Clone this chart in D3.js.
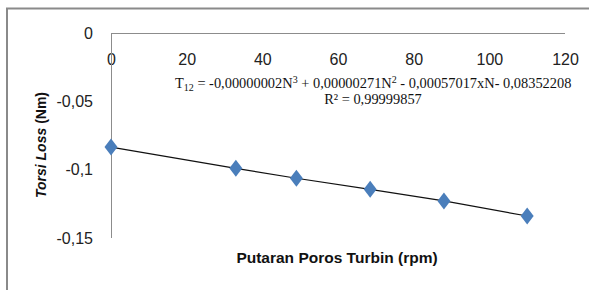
<!DOCTYPE html>
<meta charset="utf-8">
<style>
body { margin: 0; background: #fff; }
.tick text { font-family: "Liberation Sans", Arial, sans-serif; font-size: 16px; fill: #222; }
.axis path { stroke: #8c8c8c; }
</style>
<body>
<script src="https://cdn.jsdelivr.net/npm/d3@7"></script>
<script>
// data
var rpm = [0, 33, 49, 68.5, 88, 110];
var torsi = [-0.0835, -0.099, -0.1063, -0.1144, -0.1229, -0.1339];
var xTicks = [0, 20, 40, 60, 80, 100, 120];
var yTicks = [0, -0.05, -0.1, -0.15];
var r2 = "R² = 0,99999857";

var width = 589, height = 290;

var svg = d3.select("body").append("svg")
    .attr("width", width)
    .attr("height", height);

// outer frame (cut at right / bottom like the reference)
svg.append("rect")
    .attr("x", 7).attr("y", 8.5)
    .attr("width", 600).attr("height", 300)
    .attr("fill", "none")
    .attr("stroke", "#8a8a8a")
    .attr("stroke-width", 2);

var x = d3.scaleLinear().domain([0, 120]).range([111, 565]);
var y = d3.scaleLinear().domain([-0.15, 0]).range([238, 33]);

// comma decimals, plain hyphen minus
var fmt = function(d) { return String(d).replace(".", ","); };

// x axis sits at y=0 with labels under it
svg.append("g")
    .attr("class", "axis")
    .attr("transform", "translate(0," + y(0) + ")")
    .call(d3.axisBottom(x).tickValues(xTicks).tickSize(0).tickPadding(21).tickFormat(fmt))
    .call(function(g) { g.select(".domain").attr("d", "M" + x(0) + ",0.5H" + x(120)); });

svg.append("g")
    .attr("class", "axis")
    .attr("transform", "translate(" + x(0) + ",0)")
    .call(d3.axisLeft(y).tickValues(yTicks).tickSize(0).tickPadding(18).tickFormat(fmt))
    .call(function(g) { g.select(".domain").attr("d", "M0.5," + y(0) + "V" + y(-0.15)); });

var data = rpm.map(function(d, i) { return {n: d, t: torsi[i]}; });

// trend line
svg.append("path")
    .datum(data)
    .attr("fill", "none")
    .attr("stroke", "#111")
    .attr("stroke-width", 1.2)
    .attr("d", d3.line().x(function(d) { return x(d.n); }).y(function(d) { return y(d.t); }));

// diamond markers
svg.selectAll(".pt")
    .data(data)
  .enter().append("path")
    .attr("class", "pt")
    .attr("fill", "#4a7ebb")
    .attr("transform", function(d) { return "translate(" + x(d.n) + "," + y(d.t) + ")"; })
    .attr("d", "M0,-8.5L6.5,0L0,8.5L-6.5,0Z");

// equation
var eqText = svg.append("text")
    .attr("x", 175).attr("y", 88)
    .style("font-family", "'Liberation Serif', 'Times New Roman', serif")
    .style("font-size", "14.4px")
    .attr("fill", "#111");
eqText.append("tspan").text("T");
eqText.append("tspan").attr("dy", 3).style("font-size", "10px").text("12");
eqText.append("tspan").attr("dy", -3).text(" = -0,00000002N");
eqText.append("tspan").attr("dy", -5).style("font-size", "10px").text("3");
eqText.append("tspan").attr("dy", 5).text(" + 0,00000271N");
eqText.append("tspan").attr("dy", -5).style("font-size", "10px").text("2");
eqText.append("tspan").attr("dy", 5).text(" - 0,00057017xN- 0,08352208");

svg.append("text")
    .attr("x", 373).attr("y", 104)
    .attr("text-anchor", "middle")
    .style("font-family", "'Liberation Serif', 'Times New Roman', serif")
    .style("font-size", "14.4px")
    .attr("fill", "#111")
    .text(r2);

// axis titles
svg.append("text")
    .attr("x", 337).attr("y", 263)
    .attr("text-anchor", "middle")
    .style("font-family", "'Liberation Sans', Arial, sans-serif")
    .style("font-size", "15.5px")
    .style("font-weight", "bold")
    .attr("fill", "#111")
    .text("Putaran Poros Turbin (rpm)");

var yt = svg.append("text")
    .attr("transform", "translate(46,145) rotate(-90)")
    .attr("text-anchor", "middle")
    .style("font-family", "'Liberation Sans', Arial, sans-serif")
    .style("font-size", "14px")
    .style("font-weight", "bold")
    .attr("fill", "#111");
yt.append("tspan").style("font-style", "italic").text("Torsi Loss");
yt.append("tspan").text(" (Nm)");
</script>
</body>
